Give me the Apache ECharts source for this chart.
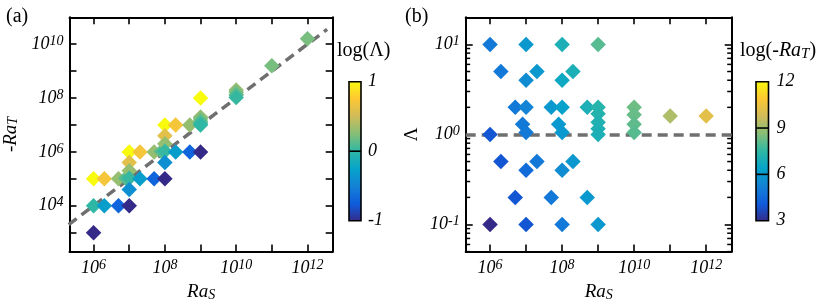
<!DOCTYPE html>
<html><head><meta charset="utf-8">
<script src="https://cdn.jsdelivr.net/npm/echarts@6/dist/echarts.min.js"></script>
<style>html,body{margin:0;padding:0;background:#fff}#c{width:830px;height:307px}</style>
</head><body><div id="c"></div>
<script>
// ---- data ----
const RaS = [1e6,1e6,1e6, 2e6,2e6, 5e6,5e6, 8e6,
  1e7,1e7,1e7,1e7,1e7,1e7, 2e7,2e7, 5e7,5e7, 8e7,
  1e8,1e8,1e8,1e8,1e8,1e8, 2e8,2e8, 5e8,5e8,
  1e9,1e9,1e9,1e9,1e9,1e9,1e9, 1e10,1e10,1e10,1e10, 1e11, 1e12];
const Lambda = [10,1,0.1, 5,0.5, 2,0.2, 1.3,
  10,4,2,1.05,0.4,0.1, 5,0.5, 2,0.2, 1.3,
  10,4,2,1.05,0.4,0.1, 5,0.5, 2,0.2,
  10,2,1.7,1.37,1.16,1.0,0.1, 2,1.65,1.3,1.05, 1.6, 1.6];
const negRaT = [1e5,1e4,1e3, 1e5,1e4, 1e5,1e4, 1.04e5,
  1e6,4e5,2e5,1.05e5,4e4,1e4, 1e6,1e5, 1e6,1e5, 1.04e6,
  1e7,4e6,2e6,1.05e6,4e5,1e5, 1e7,1e6, 1e7,1e6,
  1e8,2e7,1.7e7,1.37e7,1.16e7,1e7,1e6, 2e8,1.65e8,1.3e8,1.05e8, 1.6e9, 1.6e10];
const fitRaS = [2e5, 3.55e12];
const fitNegRaT = [2e3, 3.55e10];
const lambdaRef = 1;
const cbarTicksA = [-1, 0, 1];
const cbarTicksB = [3, 6, 9, 12];
const xRange = [2.11e5, 5.1e12];
const yRangeA = [198, 1e11];
const yRangeB = [0.05, 20];
const parula = ['#352a87','#0f5cdd','#1481d6','#06a4ca','#2eb7a4','#87bf77','#d1bb59','#fec832','#f9fb0e'];

// ---- styling ----
const F = 'Liberation Serif';
const K = '#000';
const richTick = {
  b: {fontFamily: F, fontStyle: 'italic', fontSize: 18, color: K, lineHeight: 20},
  s: {fontFamily: F, fontStyle: 'italic', fontSize: 14, color: K, lineHeight: 12, verticalAlign: 'top'}
};
function supFmt(evenOnly) {
  return function (v) {
    const e = Math.log10(v), r = Math.round(e);
    if (Math.abs(e - r) > 1e-6) return '';
    if (evenOnly && r % 2 !== 0) return '';
    return '{b|10}{s|' + r + '}';
  };
}
const richName = {
  i: {fontFamily: F, fontStyle: 'italic', fontWeight: 'normal', fontSize: 19, color: K, lineHeight: 20},
  n: {fontFamily: F, fontWeight: 'normal', fontSize: 19, color: K, lineHeight: 20},
  sub: {fontFamily: F, fontStyle: 'italic', fontWeight: 'normal', fontSize: 14, color: K, lineHeight: 12, verticalAlign: 'bottom'}
};
function logAxis(opts) {
  return Object.assign({
    type: 'log', logBase: 10,
    axisLine: {show: true, onZero: false, lineStyle: {color: K, width: 2}},
    axisTick: {show: true, inside: true, length: 7, lineStyle: {color: K, width: 1.6}},
    splitLine: {show: false},
    minorTick: {show: false}
  }, opts);
}
const minorB = [];
for (let d = -2; d <= 1; d++) for (let k = 2; k <= 9; k++) {
  const v = k * Math.pow(10, d);
  if (v > yRangeB[0] * 0.999 && v < yRangeB[1]) minorB.push(v);
}

const chart = echarts.init(document.getElementById('c'), null, {renderer: 'canvas'});
const gridTop = 17.3, gridH = 234.4, gridW = 266;
const titleRich = {
  n: {fontFamily: F, fontWeight: 'normal', fontSize: 20, color: K, lineHeight: 22},
  i: {fontFamily: F, fontWeight: 'normal', fontStyle: 'italic', fontSize: 20, color: K, lineHeight: 22},
  s: {fontFamily: F, fontWeight: 'normal', fontStyle: 'italic', fontSize: 15, color: K, lineHeight: 14, verticalAlign: 'bottom'}
};
const option = {
  animation: false,
  backgroundColor: '#fff',
  title: [
    {text: '{n|(a)}', left: 6, top: 6, padding: 0, textStyle: {fontWeight: 'normal', rich: titleRich}},
    {text: '{n|(b)}', left: 405, top: 6, padding: 0, textStyle: {fontWeight: 'normal', rich: titleRich}},
    {text: '{n|log(Λ)}', left: 337, top: 40, padding: 0, textStyle: {fontWeight: 'normal', rich: titleRich}},
    {text: '{n|log(-}{i|Ra}{s|T}{n|)}', left: 740, top: 40, padding: 0, textStyle: {fontWeight: 'normal', rich: titleRich}}
  ],
  grid: [
    {left: 66.7, top: gridTop, width: gridW, height: gridH},
    {left: 465.7, top: gridTop, width: gridW, height: gridH},
    {left: 349, top: 81.7, width: 12, height: 139},
    {left: 756, top: 81.7, width: 12.5, height: 139}
  ],
  xAxis: [
    logAxis({gridIndex: 0, position: 'bottom', min: xRange[0], max: xRange[1],
      axisLabel: {margin: 7, formatter: supFmt(true), rich: richTick},
      name: '{i|Ra}{sub|S}', nameLocation: 'middle', nameGap: 27, nameTextStyle: {rich: richName}}),
    logAxis({gridIndex: 0, position: 'top', min: xRange[0], max: xRange[1], axisLabel: {show: false}}),
    logAxis({gridIndex: 1, position: 'bottom', min: xRange[0], max: xRange[1],
      axisLabel: {margin: 7, formatter: supFmt(true), rich: richTick},
      name: '{i|Ra}{sub|S}', nameLocation: 'middle', nameGap: 27, nameTextStyle: {rich: richName}}),
    logAxis({gridIndex: 1, position: 'top', min: xRange[0], max: xRange[1], axisLabel: {show: false}}),
    {gridIndex: 2, type: 'value', min: 0, max: 1, show: false},
    {gridIndex: 3, type: 'value', min: 0, max: 1, show: false}
  ],
  yAxis: [
    logAxis({gridIndex: 0, position: 'left', min: yRangeA[0], max: yRangeA[1],
      axisLabel: {margin: 6, formatter: supFmt(true), rich: richTick},
      name: '{i|-Ra}{sub|T}', nameLocation: 'middle', nameGap: 49, nameTextStyle: {rich: richName}}),
    logAxis({gridIndex: 0, position: 'right', min: yRangeA[0], max: yRangeA[1], axisLabel: {show: false}}),
    logAxis({gridIndex: 1, position: 'left', min: yRangeB[0], max: yRangeB[1],
      axisLabel: {margin: 6, formatter: supFmt(false), rich: richTick},
      name: '{n|Λ}', nameLocation: 'middle', nameGap: 44, nameTextStyle: {rich: richName}}),
    logAxis({gridIndex: 1, position: 'right', min: yRangeB[0], max: yRangeB[1], axisLabel: {show: false}}),
    {gridIndex: 2, type: 'value', position: 'right', min: cbarTicksA[0], max: cbarTicksA[cbarTicksA.length - 1], interval: 1,
      axisLine: {show: false}, axisTick: {show: false}, splitLine: {show: false},
      axisLabel: {margin: 7, fontFamily: F, fontStyle: 'italic', fontSize: 18, color: K}},
    {gridIndex: 3, type: 'value', position: 'right', min: cbarTicksB[0], max: cbarTicksB[cbarTicksB.length - 1], interval: 3,
      axisLine: {show: false}, axisTick: {show: false}, splitLine: {show: false},
      axisLabel: {margin: 8, fontFamily: F, fontStyle: 'italic', fontSize: 18, color: K}}
  ],
  visualMap: [
    {type: 'continuous', show: false, seriesIndex: 1, dimension: 2, min: cbarTicksA[0], max: cbarTicksA[cbarTicksA.length - 1], inRange: {color: parula}},
    {type: 'continuous', show: false, seriesIndex: 3, dimension: 2, min: cbarTicksB[0], max: cbarTicksB[cbarTicksB.length - 1], inRange: {color: parula}}
  ],
  series: [
    {type: 'line', xAxisIndex: 0, yAxisIndex: 0, z: 1, silent: true, showSymbol: false, symbol: 'none',
      data: fitRaS.map((x, i) => [x, fitNegRaT[i]]),
      lineStyle: {color: '#6f6f6f', width: 3.5, type: [10, 6]}},
    {type: 'scatter', xAxisIndex: 0, yAxisIndex: 0, z: 2, symbol: 'diamond', symbolSize: 15.5,
      data: RaS.map((x, i) => [x, negRaT[i], Math.log10(Lambda[i])]), itemStyle: {opacity: 1}},
    {type: 'line', xAxisIndex: 2, yAxisIndex: 2, z: 1, silent: true, data: [], symbol: 'none',
      markLine: {silent: true, symbol: 'none', z: 1, label: {show: false},
        lineStyle: {color: '#6f6f6f', width: 3.5, type: [10, 6]},
        data: [{yAxis: lambdaRef}]}},
    {type: 'scatter', xAxisIndex: 2, yAxisIndex: 2, z: 2, symbol: 'diamond', symbolSize: 15.5,
      data: RaS.map((x, i) => [x, Lambda[i], Math.log10(negRaT[i])]), itemStyle: {opacity: 1}},
    {type: 'custom', xAxisIndex: 2, yAxisIndex: 2, z: 5, silent: true, clip: false,
      data: minorB.map(v => [1e6, v]),
      renderItem: function (params, api) {
        const cs = params.coordSys;
        const y = api.coord([api.value(0), api.value(1)])[1];
        const st = {stroke: K, lineWidth: 1.5};
        return {type: 'group', children: [
          {type: 'line', shape: {x1: cs.x, y1: y, x2: cs.x + 4.5, y2: y}, style: st},
          {type: 'line', shape: {x1: cs.x + cs.width, y1: y, x2: cs.x + cs.width - 4.5, y2: y}, style: st}
        ]};
      }},
    // colorbars
    {type: 'custom', xAxisIndex: 4, yAxisIndex: 4, z: 3, silent: true, data: [[0, cbarTicksA[0]]],
      renderItem: function (params) {
        const cs = params.coordSys;
        return {type: 'rect', shape: {x: cs.x, y: cs.y, width: cs.width, height: cs.height},
          style: {fill: new echarts.graphic.LinearGradient(0, 1, 0, 0, parula.map((c, i) => ({offset: i / (parula.length - 1), color: c}))),
            stroke: K, lineWidth: 1.6}};
      }},
    {type: 'custom', xAxisIndex: 4, yAxisIndex: 4, z: 4, silent: true,
      data: cbarTicksA.slice(1, -1).map(v => [0, v]),
      renderItem: function (params, api) {
        const cs = params.coordSys;
        const y = api.coord([0, api.value(1)])[1];
        return {type: 'line', shape: {x1: cs.x, y1: y, x2: cs.x + cs.width, y2: y}, style: {stroke: K, lineWidth: 1.6}};
      }},
    {type: 'custom', xAxisIndex: 5, yAxisIndex: 5, z: 3, silent: true, data: [[0, cbarTicksB[0]]],
      renderItem: function (params) {
        const cs = params.coordSys;
        return {type: 'rect', shape: {x: cs.x, y: cs.y, width: cs.width, height: cs.height},
          style: {fill: new echarts.graphic.LinearGradient(0, 1, 0, 0, parula.map((c, i) => ({offset: i / (parula.length - 1), color: c}))),
            stroke: K, lineWidth: 1.6}};
      }},
    {type: 'custom', xAxisIndex: 5, yAxisIndex: 5, z: 4, silent: true,
      data: cbarTicksB.slice(1, -1).map(v => [0, v]),
      renderItem: function (params, api) {
        const cs = params.coordSys;
        const y = api.coord([0, api.value(1)])[1];
        return {type: 'line', shape: {x1: cs.x, y1: y, x2: cs.x + cs.width, y2: y}, style: {stroke: K, lineWidth: 1.6}};
      }}
  ]
};
chart.setOption(option);
</script>
</body></html>
